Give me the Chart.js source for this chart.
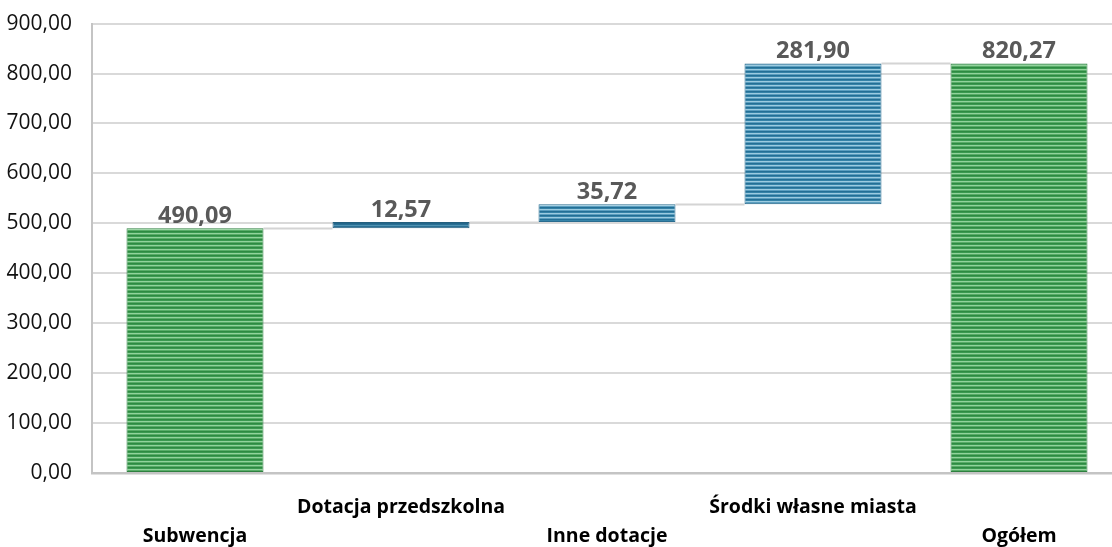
<!DOCTYPE html>
<html>
<head>
<meta charset="utf-8">
<script src="https://cdn.jsdelivr.net/npm/chart.js@4.4.1/dist/chart.umd.min.js"></script>
<style>
  html, body { margin: 0; padding: 0; background: #ffffff; overflow: hidden; }
  #wrap { width: 1112px; height: 547px; overflow: hidden; position: relative; }
  #box { width: 1122px; height: 561px; position: absolute; left: 0; top: -9px; }
</style>
</head>
<body>
<div id="wrap"><div id="box"><canvas id="chart"></canvas></div></div>
<script>
// Budget components (mln zł) and the resulting total
const categories = ['Subwencja', 'Dotacja przedszkolna', 'Inne dotacje', 'Środki własne miasta', 'Ogółem'];
const increments = [490.09, 12.57, 35.72, 281.90];
const total = 820.27;
const yTicks = [0, 100, 200, 300, 400, 500, 600, 700, 800, 900];
// which bars are totals (drawn from zero) vs. steps
const isTotal = [true, false, false, false, true];

// floating bar ranges for the waterfall
const ranges = [];
let running = 0;
increments.forEach((v, i) => {
  if (isTotal[i]) { ranges.push([0, v]); running = v; }
  else { ranges.push([running, running + v]); running += v; }
});
ranges.push([0, total]);
const shownValues = increments.concat([total]);

const fmt = v => v.toFixed(2).replace('.', ',');

// horizontal stripe fills
function stripes(colors) {
  const c = document.createElement('canvas');
  c.width = 4; c.height = colors.length;
  const g = c.getContext('2d');
  colors.forEach((col, i) => { g.fillStyle = col; g.fillRect(0, i, 4, 1); });
  return g.createPattern(c, 'repeat');
}
const ctx0 = document.getElementById('chart').getContext('2d');
const greenFill = stripes(['#2e8a42', '#3b9a50', '#92d39c', '#58ad68']);
const blueFill = stripes(['#246f95', '#3583a8', '#9ccbe0', '#5b9fc0']);
const darkBlueFill = stripes(['#23668a', '#2a7094', '#4f92b2', '#2a7094']);

const fills = [greenFill, darkBlueFill, blueFill, blueFill, greenFill];
const borders = ['#2f8040', '#245f7e', '#2a6c8f', '#2a6c8f', '#2f8040'];

// connectors between consecutive bars and value labels above them
const waterfallDecor = {
  id: 'waterfallDecor',
  beforeDatasetsDraw(chart) {
    const meta = chart.getDatasetMeta(0);
    const y = chart.scales.y;
    const c = chart.ctx;
    c.save();
    c.strokeStyle = '#d4d4d4';
    c.lineWidth = 2;
    for (let i = 0; i < meta.data.length - 1; i++) {
      const a = meta.data[i], b = meta.data[i + 1];
      const level = ranges[i][1];
      const py = Math.round(y.getPixelForValue(level)) + 0.5;
      c.beginPath();
      c.moveTo(a.x + a.width / 2, py);
      c.lineTo(b.x - b.width / 2, py);
      c.stroke();
    }
    c.restore();
  },
  afterDatasetsDraw(chart) {
    const meta = chart.getDatasetMeta(0);
    const y = chart.scales.y;
    const c = chart.ctx;
    c.save();
    c.fillStyle = '#595959';
    c.font = 'bold 23.5px "Open Sans"';
    c.textAlign = 'center';
    c.textBaseline = 'alphabetic';
    meta.data.forEach((el, i) => {
      const top = y.getPixelForValue(ranges[i][1]);
      c.fillText(fmt(shownValues[i]), el.x, top - 5);
    });
    c.restore();
  }
};

new Chart(ctx0, {
  type: 'bar',
  data: {
    labels: categories.map((l, i) => i % 2 === 0 ? ['', l] : [l, '']),
    datasets: [{
      data: ranges,
      backgroundColor: fills,
      borderColor: borders,
      borderWidth: 1,
      borderSkipped: false,
      categoryPercentage: 1,
      barPercentage: 0.665
    }]
  },
  options: {
    responsive: true,
    maintainAspectRatio: false,
    animation: false,
    layout: { padding: { top: 14, right: 0, bottom: 0, left: 0 } },
    plugins: { legend: { display: false }, tooltip: { enabled: false } },
    scales: {
      x: {
        grid: { display: false, drawTicks: false },
        border: { display: true, color: '#c4c4c4', width: 2.5 },
        ticks: {
          color: '#000000',
          font: { family: '"Open Sans"', size: 19.5, weight: 'bold', lineHeight: '29px' },
          padding: 20,
          maxRotation: 0,
          autoSkip: false
        },
        afterFit(s) { s.height = 79; }
      },
      y: {
        min: 0,
        max: 900,
        afterBuildTicks(s) { s.ticks = yTicks.map(v => ({ value: v })); },
        grid: { color: '#d9d9d9', lineWidth: 2, drawTicks: false },
        border: { display: true, color: '#c4c4c4', width: 2 },
        ticks: {
          color: '#111111',
          font: { family: '"Open Sans"', size: 21 },
          padding: 20,
          callback: v => fmt(v)
        },
        afterFit(s) { s.width = 92; }
      }
    }
  },
  plugins: [waterfallDecor]
});
</script>
</body>
</html>
